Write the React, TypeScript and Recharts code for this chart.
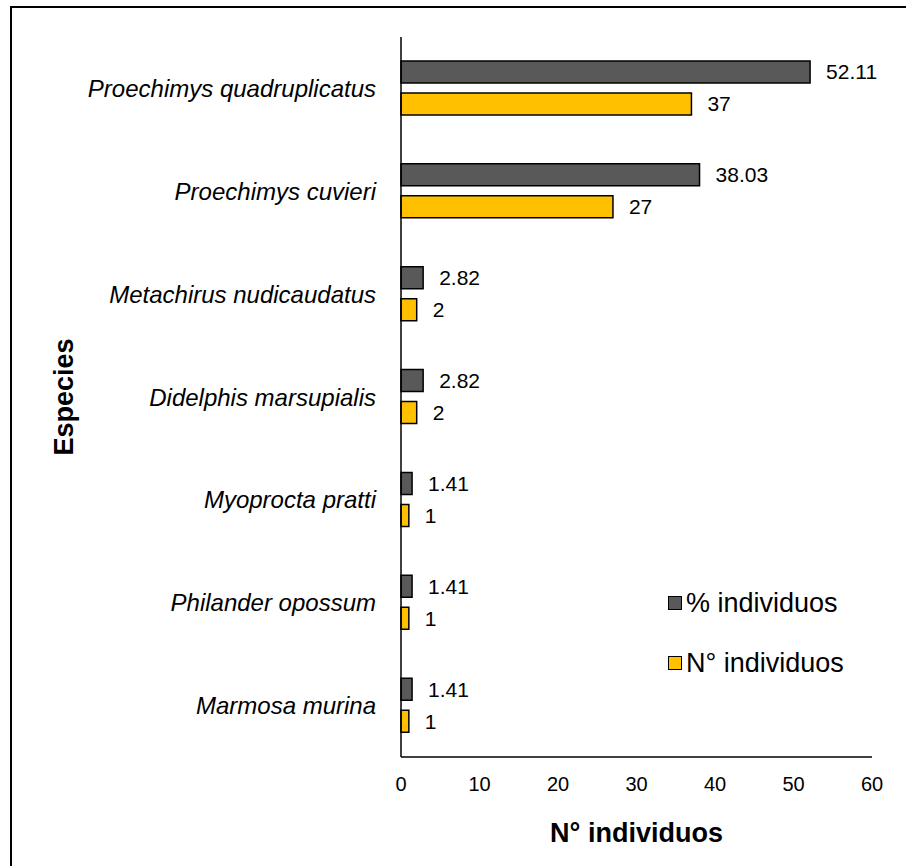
import React from 'react';
import { BarChart, Bar, XAxis, YAxis, LabelList, Label, Legend } from 'recharts';

const species = [
  'Proechimys quadruplicatus',
  'Proechimys cuvieri',
  'Metachirus nudicaudatus',
  'Didelphis marsupialis',
  'Myoprocta pratti',
  'Philander opossum',
  'Marmosa murina',
];
const percentIndividuos = [52.11, 38.03, 2.82, 2.82, 1.41, 1.41, 1.41];
const countIndividuos = [37, 27, 2, 2, 1, 1, 1];
const xTicks = [0, 10, 20, 30, 40, 50, 60];

const data = species.map((name, i) => ({
  name,
  pct: percentIndividuos[i],
  count: countIndividuos[i],
}));

const FONT = 'Liberation Sans, Arial, Helvetica, sans-serif';

const XTitle = (props: any) => {
  const vb = props.viewBox || {};
  return (
    <text
      x={vb.x + vb.width / 2}
      y={vb.y + 85}
      textAnchor="middle"
      fontFamily={FONT}
      fontWeight="bold"
      fontSize={27}
      fill="#000"
    >
      N° individuos
    </text>
  );
};

const YTitle = (props: any) => {
  const vb = props.viewBox || {};
  const x = vb.x + 62;
  const y = vb.y + vb.height / 2;
  return (
    <text
      x={x}
      y={y}
      transform={`rotate(-90 ${x} ${y})`}
      textAnchor="middle"
      fontFamily={FONT}
      fontWeight="bold"
      fontSize={27}
      fill="#000"
    >
      Especies
    </text>
  );
};

const LegendBox = (props: any) => {
  const items = props.payload || [];
  return (
    <div style={{ fontFamily: FONT, fontSize: 27, color: '#000' }}>
      {items.map((it: any) => (
        <div
          key={it.value}
          style={{ display: 'flex', alignItems: 'center', height: 30, marginBottom: 30 }}
        >
          <span
            style={{
              display: 'inline-block',
              width: 12,
              height: 12,
              background: it.color,
              border: '1.5px solid #000',
              marginRight: 4,
            }}
          />
          <span>{it.value}</span>
        </div>
      ))}
    </div>
  );
};

export default function App() {
  return (
    <div style={{ position: 'absolute', left: 0, top: 0, width: 906, height: 866, background: '#fff' }}>
      <div
        style={{
          position: 'absolute',
          left: 10,
          top: 6,
          width: 900,
          height: 864,
          borderTop: '2px solid #000',
          borderLeft: '2px solid #000',
        }}
      />
      <BarChart
        layout="vertical"
        width={906}
        height={866}
        data={data}
        margin={{ top: 37, right: 34, bottom: 79, left: 11 }}
        barSize={22}
        barGap={10}
        style={{ position: 'absolute', left: 0, top: 0 }}
      >
        <XAxis
          type="number"
          domain={[0, 60]}
          ticks={xTicks}
          interval={0}
          height={30}
          tickLine={false}
          tickSize={0}
          tickMargin={20}
          axisLine={{ stroke: '#000', strokeWidth: 1.5 }}
          tick={{ fontFamily: FONT, fontSize: 20, fill: '#000' }}
        >
          <Label content={XTitle} />
        </XAxis>
        <YAxis
          type="category"
          dataKey="name"
          width={390}
          tickLine={false}
          tickSize={0}
          tickMargin={25}
          interval={0}
          axisLine={{ stroke: '#000', strokeWidth: 1.5 }}
          tick={{ fontFamily: FONT, fontSize: 24, fontStyle: 'italic', fill: '#000' }}
        >
          <Label content={YTitle} />
        </YAxis>
        <Legend
          layout="vertical"
          align="center"
          verticalAlign="middle"
          content={LegendBox}
          wrapperStyle={{ position: 'absolute', left: 668, top: 588, width: 230 }}
        />
        <Bar dataKey="pct" name="% individuos" fill="#595959" stroke="#000" strokeWidth={1.5} isAnimationActive={false}>
          <LabelList dataKey="pct" position="right" offset={16} fontFamily={FONT} fontSize={21} fill="#000" />
        </Bar>
        <Bar dataKey="count" name="N° individuos" fill="#FFC000" stroke="#000" strokeWidth={1.5} isAnimationActive={false}>
          <LabelList dataKey="count" position="right" offset={16} fontFamily={FONT} fontSize={21} fill="#000" />
        </Bar>
      </BarChart>
    </div>
  );
}
